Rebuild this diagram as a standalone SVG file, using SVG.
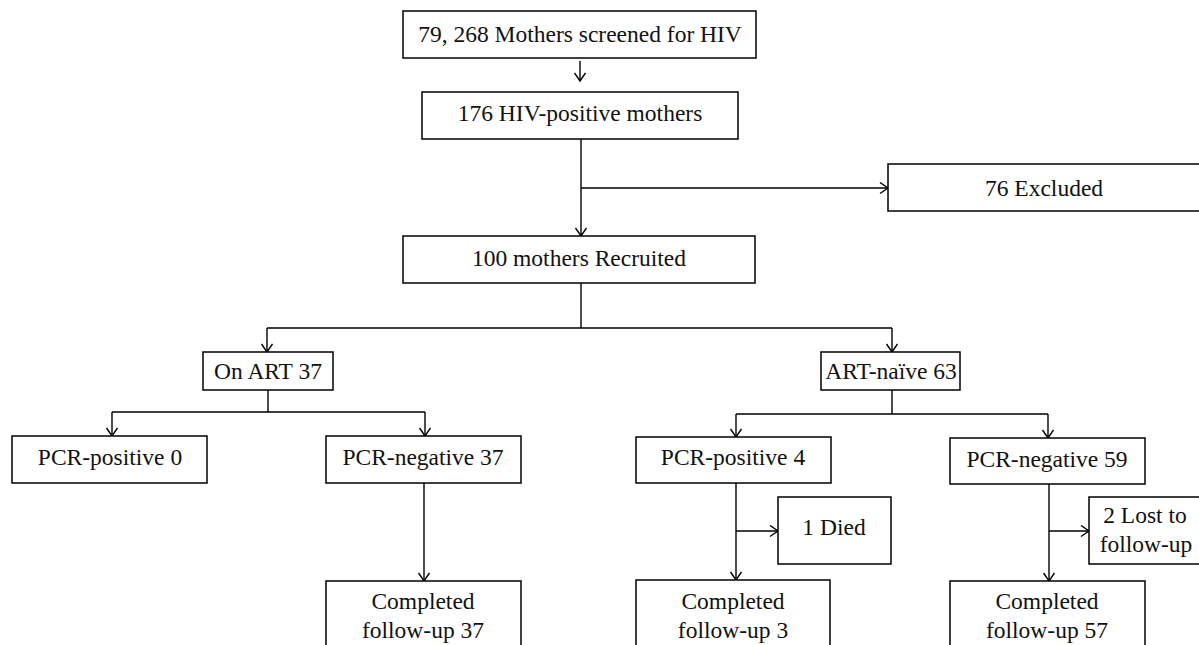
<svg xmlns="http://www.w3.org/2000/svg" width="1199" height="645" viewBox="0 0 1199 645">
<style>
.box{fill:#fff;stroke:#000;stroke-width:1.5}
.t{font-family:"Liberation Serif","Times New Roman",serif;font-size:23.5px;fill:#111;text-anchor:middle}
.ln{fill:none;stroke:#000;stroke-width:1.4}
.ar{fill:none;stroke:#000;stroke-width:1.4;marker-end:url(#arr)}
</style>
<defs>
<marker id="arr" markerUnits="userSpaceOnUse" markerWidth="14" markerHeight="14" refX="9" refY="6" orient="auto">
<path d="M1,0.5 L9,6 L1,11.5" fill="none" stroke="#000" stroke-width="1.4"/>
</marker>
</defs>
<rect width="1199" height="645" fill="#fff"/>
<g id="connectors">
<path class="ar" d="M580,61 V81"/>
<path class="ln" d="M581,139 V188"/>
<path class="ar" d="M581,188 H888"/>
<path class="ar" d="M581,188 V236"/>
<path class="ln" d="M581,283 V328 M267,328 H892"/>
<path class="ar" d="M267,328 V352"/>
<path class="ar" d="M892,328 V352"/>
<path class="ln" d="M268,390 V412 M112,412 H425"/>
<path class="ar" d="M112,412 V436"/>
<path class="ar" d="M425,412 V436"/>
<path class="ar" d="M424,483 V581"/>
<path class="ln" d="M892,390 V414 M736,414 H1048"/>
<path class="ar" d="M736,414 V437"/>
<path class="ar" d="M1048,414 V438"/>
<path class="ar" d="M736,483 V580"/>
<path class="ar" d="M736,531 H778"/>
<path class="ar" d="M1049,484 V581"/>
<path class="ar" d="M1049,531 H1089"/>
</g>
<g id="n1"><rect class="box" x="403" y="11" width="353" height="47"/><text class="t" x="580" y="42">79, 268 Mothers screened for HIV</text></g>
<g id="n2"><rect class="box" x="422" y="92" width="316" height="47"/><text class="t" x="580" y="121">176 HIV-positive mothers</text></g>
<g id="n3"><rect class="box" x="888" y="164" width="320" height="47"/><text class="t" x="1044" y="196">76 Excluded</text></g>
<g id="n4"><rect class="box" x="403" y="236" width="352" height="47"/><text class="t" x="579" y="266">100 mothers Recruited</text></g>
<g id="n5"><rect class="box" x="203" y="352" width="130" height="38"/><text class="t" x="268" y="379">On ART 37</text></g>
<g id="n6"><rect class="box" x="821" y="352" width="139" height="38"/><text class="t" x="891" y="379">ART-naïve 63</text></g>
<g id="n7"><rect class="box" x="12" y="436" width="195" height="47"/><text class="t" x="110" y="465">PCR-positive 0</text></g>
<g id="n8"><rect class="box" x="326" y="436" width="195" height="47"/><text class="t" x="423" y="465">PCR-negative 37</text></g>
<g id="n9"><rect class="box" x="636" y="437" width="195" height="46"/><text class="t" x="733" y="465">PCR-positive 4</text></g>
<g id="n10"><rect class="box" x="950" y="438" width="195" height="46"/><text class="t" x="1047" y="467">PCR-negative 59</text></g>
<g id="n11"><rect class="box" x="778" y="497" width="113" height="67"/><text class="t" x="834" y="535">1 Died</text></g>
<g id="n12"><rect class="box" x="1089" y="497" width="120" height="67"/><text class="t" x="1145" y="523">2 Lost to</text><text class="t" x="1146" y="552">follow-up</text></g>
<g id="n13"><rect class="box" x="326" y="581" width="195" height="80"/><text class="t" x="423" y="609">Completed</text><text class="t" x="423" y="638">follow-up 37</text></g>
<g id="n14"><rect class="box" x="636" y="580" width="194" height="80"/><text class="t" x="733" y="609">Completed</text><text class="t" x="733" y="638">follow-up 3</text></g>
<g id="n15"><rect class="box" x="950" y="581" width="195" height="80"/><text class="t" x="1047" y="609">Completed</text><text class="t" x="1047" y="638">follow-up 57</text></g>
</svg>
